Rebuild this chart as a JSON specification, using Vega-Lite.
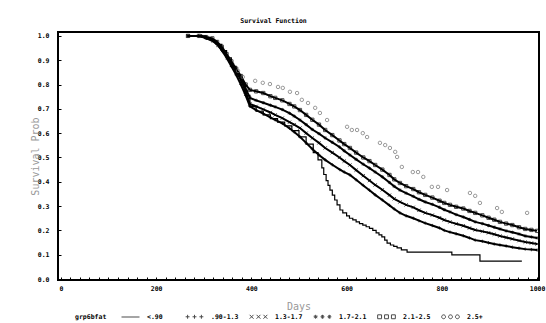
{
  "$schema": "https://vega.github.io/schema/vega-lite/v6.json",
  "width": 481,
  "height": 248,
  "autosize": {"type": "none"},
  "padding": {"left": 58, "top": 32, "right": 7, "bottom": 43},
  "background": "white",
  "title": {"text": "Survival Function", "font": "DejaVu Sans Mono", "fontSize": 6.5, "fontWeight": "bold", "color": "#000", "anchor": "middle", "dx": -25, "offset": 7},
  "config": {
    "view": {"stroke": "#000", "strokeWidth": 2},
    "axis": {"labelFont": "DejaVu Sans Mono", "labelFontSize": 6.5, "labelFontWeight": "bold", "labelColor": "#000", "titleFont": "DejaVu Sans Mono", "titleFontSize": 10, "titleFontWeight": "normal", "titleColor": "#999", "grid": false, "domain": false, "ticks": true, "tickColor": "#000", "tickWidth": 1}
  },
  "resolve": {"scale": {"shape": "independent"}, "legend": {"shape": "independent"}},
  "datasets": {
    "km": [
      {"g":"2.1-2.5","d":267,"s":1},{"g":"2.1-2.5","d":290,"s":1},{"g":"2.1-2.5","d":305,"s":0.995},{"g":"2.1-2.5","d":318,"s":0.99},{"g":"2.1-2.5","d":328,"s":0.975},{"g":"2.1-2.5","d":338,"s":0.955},{"g":"2.1-2.5","d":348,"s":0.925},{"g":"2.1-2.5","d":358,"s":0.895},{"g":"2.1-2.5","d":368,"s":0.865},{"g":"2.1-2.5","d":378,"s":0.835},{"g":"2.1-2.5","d":388,"s":0.8},{"g":"2.1-2.5","d":397,"s":0.778},{"g":"2.1-2.5","d":410,"s":0.772},{"g":"2.1-2.5","d":425,"s":0.765},{"g":"2.1-2.5","d":440,"s":0.752},{"g":"2.1-2.5","d":450,"s":0.745},{"g":"2.1-2.5","d":465,"s":0.735},{"g":"2.1-2.5","d":480,"s":0.72},{"g":"2.1-2.5","d":490,"s":0.71},{"g":"2.1-2.5","d":502,"s":0.695},{"g":"2.1-2.5","d":515,"s":0.675},{"g":"2.1-2.5","d":528,"s":0.655},{"g":"2.1-2.5","d":542,"s":0.635},{"g":"2.1-2.5","d":555,"s":0.613},{"g":"2.1-2.5","d":570,"s":0.592},{"g":"2.1-2.5","d":585,"s":0.57},{"g":"2.1-2.5","d":595,"s":0.555},{"g":"2.1-2.5","d":607,"s":0.539},{"g":"2.1-2.5","d":620,"s":0.52},{"g":"2.1-2.5","d":635,"s":0.5},{"g":"2.1-2.5","d":648,"s":0.485},{"g":"2.1-2.5","d":660,"s":0.469},{"g":"2.1-2.5","d":675,"s":0.45},{"g":"2.1-2.5","d":690,"s":0.428},{"g":"2.1-2.5","d":700,"s":0.41},{"g":"2.1-2.5","d":712,"s":0.395},{"g":"2.1-2.5","d":725,"s":0.382},{"g":"2.1-2.5","d":740,"s":0.37},{"g":"2.1-2.5","d":752,"s":0.357},{"g":"2.1-2.5","d":765,"s":0.346},{"g":"2.1-2.5","d":780,"s":0.335},{"g":"2.1-2.5","d":795,"s":0.322},{"g":"2.1-2.5","d":805,"s":0.313},{"g":"2.1-2.5","d":817,"s":0.305},{"g":"2.1-2.5","d":830,"s":0.297},{"g":"2.1-2.5","d":845,"s":0.29},{"g":"2.1-2.5","d":858,"s":0.28},{"g":"2.1-2.5","d":870,"s":0.272},{"g":"2.1-2.5","d":885,"s":0.262},{"g":"2.1-2.5","d":898,"s":0.252},{"g":"2.1-2.5","d":910,"s":0.244},{"g":"2.1-2.5","d":922,"s":0.235},{"g":"2.1-2.5","d":935,"s":0.228},{"g":"2.1-2.5","d":948,"s":0.222},{"g":"2.1-2.5","d":962,"s":0.213},{"g":"2.1-2.5","d":975,"s":0.206},{"g":"2.1-2.5","d":988,"s":0.202},{"g":"2.1-2.5","d":1000,"s":0.198},

      {"g":"1.7-2.1","d":267,"s":1},{"g":"1.7-2.1","d":295,"s":1},{"g":"1.7-2.1","d":310,"s":0.99},{"g":"1.7-2.1","d":322,"s":0.98},{"g":"1.7-2.1","d":332,"s":0.96},{"g":"1.7-2.1","d":342,"s":0.935},{"g":"1.7-2.1","d":352,"s":0.905},{"g":"1.7-2.1","d":362,"s":0.875},{"g":"1.7-2.1","d":372,"s":0.845},{"g":"1.7-2.1","d":382,"s":0.81},{"g":"1.7-2.1","d":390,"s":0.775},{"g":"1.7-2.1","d":397,"s":0.745},{"g":"1.7-2.1","d":410,"s":0.735},{"g":"1.7-2.1","d":425,"s":0.725},{"g":"1.7-2.1","d":440,"s":0.715},{"g":"1.7-2.1","d":450,"s":0.708},{"g":"1.7-2.1","d":465,"s":0.697},{"g":"1.7-2.1","d":480,"s":0.682},{"g":"1.7-2.1","d":490,"s":0.67},{"g":"1.7-2.1","d":502,"s":0.654},{"g":"1.7-2.1","d":515,"s":0.635},{"g":"1.7-2.1","d":528,"s":0.615},{"g":"1.7-2.1","d":542,"s":0.598},{"g":"1.7-2.1","d":555,"s":0.58},{"g":"1.7-2.1","d":570,"s":0.562},{"g":"1.7-2.1","d":585,"s":0.543},{"g":"1.7-2.1","d":595,"s":0.527},{"g":"1.7-2.1","d":607,"s":0.51},{"g":"1.7-2.1","d":620,"s":0.492},{"g":"1.7-2.1","d":635,"s":0.472},{"g":"1.7-2.1","d":648,"s":0.456},{"g":"1.7-2.1","d":660,"s":0.44},{"g":"1.7-2.1","d":675,"s":0.42},{"g":"1.7-2.1","d":690,"s":0.397},{"g":"1.7-2.1","d":700,"s":0.381},{"g":"1.7-2.1","d":712,"s":0.366},{"g":"1.7-2.1","d":725,"s":0.353},{"g":"1.7-2.1","d":740,"s":0.34},{"g":"1.7-2.1","d":752,"s":0.328},{"g":"1.7-2.1","d":765,"s":0.317},{"g":"1.7-2.1","d":780,"s":0.307},{"g":"1.7-2.1","d":795,"s":0.295},{"g":"1.7-2.1","d":805,"s":0.285},{"g":"1.7-2.1","d":817,"s":0.276},{"g":"1.7-2.1","d":830,"s":0.265},{"g":"1.7-2.1","d":845,"s":0.255},{"g":"1.7-2.1","d":858,"s":0.245},{"g":"1.7-2.1","d":870,"s":0.235},{"g":"1.7-2.1","d":885,"s":0.228},{"g":"1.7-2.1","d":898,"s":0.22},{"g":"1.7-2.1","d":910,"s":0.213},{"g":"1.7-2.1","d":922,"s":0.206},{"g":"1.7-2.1","d":935,"s":0.198},{"g":"1.7-2.1","d":948,"s":0.192},{"g":"1.7-2.1","d":962,"s":0.185},{"g":"1.7-2.1","d":975,"s":0.177},{"g":"1.7-2.1","d":988,"s":0.173},{"g":"1.7-2.1","d":1000,"s":0.169},

      {"g":"1.3-1.7","d":267,"s":1},{"g":"1.3-1.7","d":292,"s":1},{"g":"1.3-1.7","d":308,"s":0.99},{"g":"1.3-1.7","d":320,"s":0.98},{"g":"1.3-1.7","d":330,"s":0.962},{"g":"1.3-1.7","d":340,"s":0.94},{"g":"1.3-1.7","d":350,"s":0.91},{"g":"1.3-1.7","d":360,"s":0.88},{"g":"1.3-1.7","d":370,"s":0.848},{"g":"1.3-1.7","d":380,"s":0.81},{"g":"1.3-1.7","d":388,"s":0.77},{"g":"1.3-1.7","d":397,"s":0.72},{"g":"1.3-1.7","d":410,"s":0.71},{"g":"1.3-1.7","d":425,"s":0.698},{"g":"1.3-1.7","d":440,"s":0.685},{"g":"1.3-1.7","d":450,"s":0.675},{"g":"1.3-1.7","d":465,"s":0.662},{"g":"1.3-1.7","d":480,"s":0.645},{"g":"1.3-1.7","d":490,"s":0.635},{"g":"1.3-1.7","d":502,"s":0.621},{"g":"1.3-1.7","d":515,"s":0.6},{"g":"1.3-1.7","d":528,"s":0.58},{"g":"1.3-1.7","d":542,"s":0.56},{"g":"1.3-1.7","d":555,"s":0.539},{"g":"1.3-1.7","d":570,"s":0.52},{"g":"1.3-1.7","d":585,"s":0.5},{"g":"1.3-1.7","d":595,"s":0.485},{"g":"1.3-1.7","d":607,"s":0.469},{"g":"1.3-1.7","d":620,"s":0.448},{"g":"1.3-1.7","d":635,"s":0.425},{"g":"1.3-1.7","d":648,"s":0.405},{"g":"1.3-1.7","d":660,"s":0.387},{"g":"1.3-1.7","d":675,"s":0.367},{"g":"1.3-1.7","d":690,"s":0.345},{"g":"1.3-1.7","d":700,"s":0.33},{"g":"1.3-1.7","d":712,"s":0.317},{"g":"1.3-1.7","d":725,"s":0.305},{"g":"1.3-1.7","d":740,"s":0.295},{"g":"1.3-1.7","d":752,"s":0.283},{"g":"1.3-1.7","d":765,"s":0.272},{"g":"1.3-1.7","d":780,"s":0.263},{"g":"1.3-1.7","d":795,"s":0.252},{"g":"1.3-1.7","d":805,"s":0.243},{"g":"1.3-1.7","d":817,"s":0.235},{"g":"1.3-1.7","d":830,"s":0.227},{"g":"1.3-1.7","d":845,"s":0.219},{"g":"1.3-1.7","d":858,"s":0.21},{"g":"1.3-1.7","d":870,"s":0.202},{"g":"1.3-1.7","d":885,"s":0.196},{"g":"1.3-1.7","d":898,"s":0.19},{"g":"1.3-1.7","d":910,"s":0.184},{"g":"1.3-1.7","d":922,"s":0.177},{"g":"1.3-1.7","d":935,"s":0.171},{"g":"1.3-1.7","d":948,"s":0.165},{"g":"1.3-1.7","d":962,"s":0.158},{"g":"1.3-1.7","d":975,"s":0.152},{"g":"1.3-1.7","d":988,"s":0.148},{"g":"1.3-1.7","d":1000,"s":0.144},

      {"g":".90-1.3","d":267,"s":1},{"g":".90-1.3","d":290,"s":1},{"g":".90-1.3","d":305,"s":0.99},{"g":".90-1.3","d":318,"s":0.98},{"g":".90-1.3","d":328,"s":0.965},{"g":".90-1.3","d":338,"s":0.94},{"g":".90-1.3","d":348,"s":0.91},{"g":".90-1.3","d":358,"s":0.875},{"g":".90-1.3","d":368,"s":0.84},{"g":".90-1.3","d":378,"s":0.8},{"g":".90-1.3","d":388,"s":0.755},{"g":".90-1.3","d":397,"s":0.71},{"g":".90-1.3","d":410,"s":0.695},{"g":".90-1.3","d":425,"s":0.68},{"g":".90-1.3","d":440,"s":0.665},{"g":".90-1.3","d":450,"s":0.655},{"g":".90-1.3","d":465,"s":0.64},{"g":".90-1.3","d":480,"s":0.62},{"g":".90-1.3","d":490,"s":0.605},{"g":".90-1.3","d":502,"s":0.585},{"g":".90-1.3","d":515,"s":0.56},{"g":".90-1.3","d":528,"s":0.535},{"g":".90-1.3","d":542,"s":0.51},{"g":".90-1.3","d":555,"s":0.49},{"g":".90-1.3","d":570,"s":0.47},{"g":".90-1.3","d":586,"s":0.45},{"g":".90-1.3","d":595,"s":0.44},{"g":".90-1.3","d":607,"s":0.428},{"g":".90-1.3","d":620,"s":0.408},{"g":".90-1.3","d":635,"s":0.385},{"g":".90-1.3","d":648,"s":0.365},{"g":".90-1.3","d":660,"s":0.346},{"g":".90-1.3","d":675,"s":0.325},{"g":".90-1.3","d":690,"s":0.303},{"g":".90-1.3","d":700,"s":0.288},{"g":".90-1.3","d":712,"s":0.272},{"g":".90-1.3","d":725,"s":0.26},{"g":".90-1.3","d":740,"s":0.25},{"g":".90-1.3","d":752,"s":0.24},{"g":".90-1.3","d":765,"s":0.23},{"g":".90-1.3","d":780,"s":0.22},{"g":".90-1.3","d":795,"s":0.21},{"g":".90-1.3","d":805,"s":0.2},{"g":".90-1.3","d":817,"s":0.193},{"g":".90-1.3","d":830,"s":0.186},{"g":".90-1.3","d":845,"s":0.178},{"g":".90-1.3","d":858,"s":0.169},{"g":".90-1.3","d":870,"s":0.16},{"g":".90-1.3","d":885,"s":0.155},{"g":".90-1.3","d":898,"s":0.149},{"g":".90-1.3","d":910,"s":0.144},{"g":".90-1.3","d":922,"s":0.14},{"g":".90-1.3","d":935,"s":0.136},{"g":".90-1.3","d":948,"s":0.131},{"g":".90-1.3","d":962,"s":0.127},{"g":".90-1.3","d":975,"s":0.123},{"g":".90-1.3","d":988,"s":0.121},{"g":".90-1.3","d":1000,"s":0.119},

      {"g":"<.90","d":267,"s":1},{"g":"<.90","d":290,"s":1},{"g":"<.90","d":305,"s":0.99},{"g":"<.90","d":318,"s":0.98},{"g":"<.90","d":328,"s":0.965},{"g":"<.90","d":338,"s":0.94},{"g":"<.90","d":348,"s":0.91},{"g":"<.90","d":358,"s":0.875},{"g":"<.90","d":368,"s":0.84},{"g":"<.90","d":378,"s":0.8},{"g":"<.90","d":388,"s":0.755},{"g":"<.90","d":397,"s":0.71},{"g":"<.90","d":410,"s":0.69},{"g":"<.90","d":425,"s":0.675},{"g":"<.90","d":440,"s":0.66},{"g":"<.90","d":455,"s":0.645},{"g":"<.90","d":470,"s":0.63},{"g":"<.90","d":485,"s":0.61},{"g":"<.90","d":500,"s":0.585},{"g":"<.90","d":515,"s":0.555},{"g":"<.90","d":530,"s":0.52},{"g":"<.90","d":540,"s":0.49},{"g":"<.90","d":548,"s":0.457},{"g":"<.90","d":552,"s":0.43},{"g":"<.90","d":557,"s":0.405},{"g":"<.90","d":561,"s":0.385},{"g":"<.90","d":565,"s":0.366},{"g":"<.90","d":570,"s":0.345},{"g":"<.90","d":575,"s":0.325},{"g":"<.90","d":580,"s":0.305},{"g":"<.90","d":586,"s":0.284},{"g":"<.90","d":592,"s":0.272},{"g":"<.90","d":600,"s":0.26},{"g":"<.90","d":606,"s":0.25},{"g":"<.90","d":613,"s":0.243},{"g":"<.90","d":620,"s":0.235},{"g":"<.90","d":627,"s":0.228},{"g":"<.90","d":634,"s":0.222},{"g":"<.90","d":641,"s":0.215},{"g":"<.90","d":648,"s":0.208},{"g":"<.90","d":655,"s":0.2},{"g":"<.90","d":662,"s":0.19},{"g":"<.90","d":668,"s":0.182},{"g":"<.90","d":674,"s":0.173},{"g":"<.90","d":680,"s":0.16},{"g":"<.90","d":685,"s":0.148},{"g":"<.90","d":692,"s":0.14},{"g":"<.90","d":699,"s":0.134},{"g":"<.90","d":706,"s":0.128},{"g":"<.90","d":715,"s":0.12},{"g":"<.90","d":727,"s":0.111},{"g":"<.90","d":821,"s":0.099},{"g":"<.90","d":880,"s":0.074},{"g":"<.90","d":968,"s":0.074},

      {"g":"2.5+","d":372,"s":0.856},{"g":"2.5+","d":382,"s":0.831},{"g":"2.5+","d":408,"s":0.815},{"g":"2.5+","d":424,"s":0.807},{"g":"2.5+","d":439,"s":0.802},{"g":"2.5+","d":456,"s":0.79},{"g":"2.5+","d":466,"s":0.786},{"g":"2.5+","d":481,"s":0.77},{"g":"2.5+","d":496,"s":0.765},{"g":"2.5+","d":506,"s":0.737},{"g":"2.5+","d":519,"s":0.724},{"g":"2.5+","d":534,"s":0.704},{"g":"2.5+","d":544,"s":0.683},{"g":"2.5+","d":559,"s":0.654},{"g":"2.5+","d":601,"s":0.626},{"g":"2.5+","d":611,"s":0.613},{"g":"2.5+","d":622,"s":0.613},{"g":"2.5+","d":634,"s":0.6},{"g":"2.5+","d":643,"s":0.584},{"g":"2.5+","d":670,"s":0.56},{"g":"2.5+","d":681,"s":0.551},{"g":"2.5+","d":691,"s":0.539},{"g":"2.5+","d":702,"s":0.523},{"g":"2.5+","d":706,"s":0.502},{"g":"2.5+","d":716,"s":0.461},{"g":"2.5+","d":739,"s":0.44},{"g":"2.5+","d":750,"s":0.44},{"g":"2.5+","d":761,"s":0.42},{"g":"2.5+","d":779,"s":0.379},{"g":"2.5+","d":792,"s":0.379},{"g":"2.5+","d":811,"s":0.366},{"g":"2.5+","d":859,"s":0.354},{"g":"2.5+","d":870,"s":0.342},{"g":"2.5+","d":880,"s":0.313},{"g":"2.5+","d":916,"s":0.292},{"g":"2.5+","d":926,"s":0.276},{"g":"2.5+","d":979,"s":0.272}
    ]
  },
  "data": {"name": "km"},
  "encoding": {
    "x": {"field": "d", "type": "quantitative", "scale": {"domain": [-6, 1004], "nice": false, "zero": false},
      "axis": {"values": [0,20,40,60,80,100,120,140,160,180,200,220,240,260,280,300,320,340,360,380,400,420,440,460,480,500,520,540,560,580,600,620,640,660,680,700,720,740,760,780,800,820,840,860,880,900,920,940,960,980,1000],
        "labelExpr": "datum.value % 200 === 0 ? format(datum.value, 'd') : ''", "title": "Days", "tickSize": -3, "labelPadding": 8, "titlePadding": 10}},
    "y": {"field": "s", "type": "quantitative", "scale": {"domain": [-0.004, 1.016], "nice": false, "zero": false},
      "axis": {"values": [0, 0.1, 0.2, 0.3, 0.4, 0.5, 0.6, 0.7, 0.8, 0.9, 1], "format": ".1f", "title": "Survival Prob", "tickSize": -3, "labelPadding": 12, "titlePadding": -3}}
  },
  "layer": [
    {
      "transform": [{"filter": "datum.g !== '<.90' && datum.g !== '2.5+'"}],
      "mark": {"type": "line", "interpolate": "linear", "strokeWidth": 2, "color": "#000"},
      "encoding": {"detail": {"field": "g"}}
    },
    {
      "transform": [{"filter": "datum.g === '<.90'"}],
      "mark": {"type": "line", "interpolate": "step-after", "strokeWidth": 1.2, "color": "#000"},
      "encoding": {"detail": {"field": "g"}}
    },
    {
      "transform": [{"filter": "datum.g !== '<.90' && datum.g !== '2.5+'"}],
      "mark": {"type": "point", "filled": false, "size": 11, "strokeWidth": 1, "color": "#000"},
      "encoding": {
        "shape": {"field": "g", "type": "nominal", "legend": null,
          "scale": {"domain": ["<.90", ".90-1.3", "1.3-1.7", "1.7-2.1", "2.1-2.5", "2.5+"],
                    "range": ["M-1,0H1", "M-1,0H1M0,-1V1", "M-1,-1L1,1M-1,1L1,-1", "M-1,0H1M0,-1V1M-0.7,-0.7L0.7,0.7M-0.7,0.7L0.7,-0.7", "square", "circle"]}
        }
      }
    },
    {
      "transform": [{"filter": "datum.g === '2.5+'"}],
      "mark": {"type": "point", "shape": "circle", "filled": false, "size": 12, "strokeWidth": 1, "color": "#6e6e6e"}
    },
    {
      "transform": [{"filter": "datum.d > 5000"}],
      "mark": {"type": "point", "filled": false, "strokeWidth": 1, "color": "#000"},
      "encoding": {
        "shape": {"field": "g", "type": "nominal",
          "scale": {"domain": ["<.90", ".90-1.3", "1.3-1.7", "1.7-2.1", "2.1-2.5", "2.5+"],
                    "range": [
                      "M-3,0H3",
                      "M-2.95,0H-1.65M-2.3,-0.65V0.65M-0.65,0H0.65M0,-0.65V0.65M1.65,0H2.95M2.3,-0.65V0.65",
                      "M-2.95,-0.65L-1.65,0.65M-2.95,0.65L-1.65,-0.65M-0.65,-0.65L0.65,0.65M-0.65,0.65L0.65,-0.65M1.65,-0.65L2.95,0.65M1.65,0.65L2.95,-0.65",
                      "M-2.95,0H-1.65M-2.3,-0.65V0.65M-2.75,-0.45L-1.85,0.45M-2.75,0.45L-1.85,-0.45M-0.65,0H0.65M0,-0.65V0.65M-0.45,-0.45L0.45,0.45M-0.45,0.45L0.45,-0.45M1.65,0H2.95M2.3,-0.65V0.65M1.85,-0.45L2.75,0.45M1.85,0.45L2.75,-0.45",
                      "M-2.95,-0.65H-1.65V0.65H-2.95ZM-0.65,-0.65H0.65V0.65H-0.65ZM1.65,-0.65H2.95V0.65H1.65Z",
                      "M-1.65,0A0.65,0.65 0 1 1 -2.95,0A0.65,0.65 0 1 1 -1.65,0ZM0.65,0A0.65,0.65 0 1 1 -0.65,0A0.65,0.65 0 1 1 0.65,0ZM2.95,0A0.65,0.65 0 1 1 1.65,0A0.65,0.65 0 1 1 2.95,0Z"
                    ]},
          "legend": {
            "title": "grp6bfat", "orient": "none", "legendX": 17, "legendY": 281, "direction": "horizontal",
            "titleOrient": "left", "titleFont": "DejaVu Sans Mono", "titleFontSize": 6.5, "titleFontWeight": "bold", "titleColor": "#000", "titlePadding": 20, "titleBaseline": "middle",
            "labelFont": "DejaVu Sans Mono", "labelFontSize": 6.5, "labelFontWeight": "bold", "labelColor": "#000", "labelOffset": 13,
            "symbolSize": 36, "symbolStrokeWidth": 1, "columnPadding": 8, "gridAlign": "all"
          }
        }
      }
    }
  ]
}
